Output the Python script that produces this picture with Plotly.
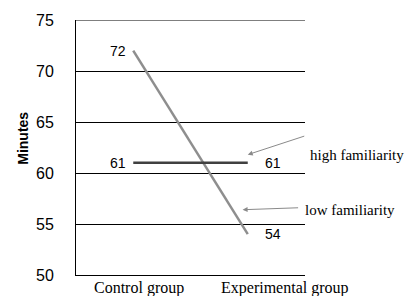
import plotly.graph_objects as go

categories = ["Control group", "Experimental group"]
low_familiarity = [72, 54]
high_familiarity = [61, 61]
y_ticks = [50, 55, 60, 65, 70, 75]

SANS = "Liberation Sans, Arial, sans-serif"
SERIF = "Liberation Serif, Times New Roman, serif"

fig = go.Figure()
fig.add_trace(go.Scatter(x=categories, y=low_familiarity, mode="lines",
                         line=dict(color="#8e8e8e", width=2.5), name="low familiarity",
                         showlegend=False, hoverinfo="skip"))
fig.add_trace(go.Scatter(x=categories, y=high_familiarity, mode="lines",
                         line=dict(color="#404040", width=2.5), name="high familiarity",
                         showlegend=False, hoverinfo="skip"))

anns = []
# data labels
for series in (low_familiarity, high_familiarity):
    anns.append(dict(x=categories[0], y=series[0], text=str(series[0]), showarrow=False,
                     xanchor="right", yanchor="middle", xshift=-5,
                     font=dict(family=SANS, size=14, color="black")))
    anns.append(dict(x=categories[1], y=series[1], text=str(series[1]), showarrow=False,
                     xanchor="left", yanchor="middle", xshift=15,
                     font=dict(family=SANS, size=14, color="black")))

# category labels
for cat, shift in zip(categories, [6, 37]):
    anns.append(dict(x=cat, y=0, yref="paper", text=cat, showarrow=False,
                     xanchor="center", yanchor="middle", xshift=shift, yshift=-13,
                     font=dict(family=SERIF, size=16, color="black")))

# series name labels with arrows
anns.append(dict(x=1.0, y=61.8, text="", showarrow=True, ax=58, ay=-19,
                 arrowhead=2, arrowsize=1, arrowwidth=1, arrowcolor="#8a8a8a"))
anns.append(dict(x=0.955, y=56.4, text="", showarrow=True, ax=57, ay=-2,
                 arrowhead=2, arrowsize=1, arrowwidth=1, arrowcolor="#8a8a8a"))
anns.append(dict(x=1.015, y=0.47, xref="paper", yref="paper", text="high familiarity",
                 showarrow=False, xanchor="left", yanchor="middle",
                 font=dict(family=SERIF, size=15, color="black")))
anns.append(dict(x=0.993, y=0.253, xref="paper", yref="paper", text="low familiarity",
                 showarrow=False, xanchor="left", yanchor="middle",
                 font=dict(family=SERIF, size=15, color="black")))

# y-axis title
anns.append(dict(x=-0.235, y=0.535, xref="paper", yref="paper", text="<b>Minutes</b>",
                 textangle=-90, showarrow=False, xanchor="center", yanchor="middle",
                 font=dict(family=SANS, size=14, color="black")))

# top gridline at the highest tick (plotly drops the gridline at the range edge)
shapes = [dict(type="line", xref="paper", x0=0, x1=1, yref="y",
               y0=y_ticks[-1], y1=y_ticks[-1], line=dict(color="black", width=1))]

fig.update_layout(
    width=405, height=296,
    margin=dict(l=76, r=100, t=17, b=21),
    paper_bgcolor="white", plot_bgcolor="white",
    annotations=anns,
    shapes=shapes,
    showlegend=False,
    hovermode=False,
    xaxis=dict(type="category", range=[-0.5, 1.5], showticklabels=False,
               showgrid=False, zeroline=False, showline=True, linecolor="black",
               linewidth=1, ticks=""),
    yaxis=dict(range=[50, 75], tickvals=y_ticks, showgrid=True, gridcolor="black",
               gridwidth=1, zeroline=False, showline=True, linecolor="black",
               linewidth=1, ticks="", ticklabelstandoff=18,
               tickfont=dict(family=SANS, size=16, color="black")),
)

fig.write_html("out.html", config={"displayModeBar": False, "staticPlot": True},
               post_script="document.body.style.margin='0';document.body.style.padding='0';document.documentElement.style.overflow='hidden';")
